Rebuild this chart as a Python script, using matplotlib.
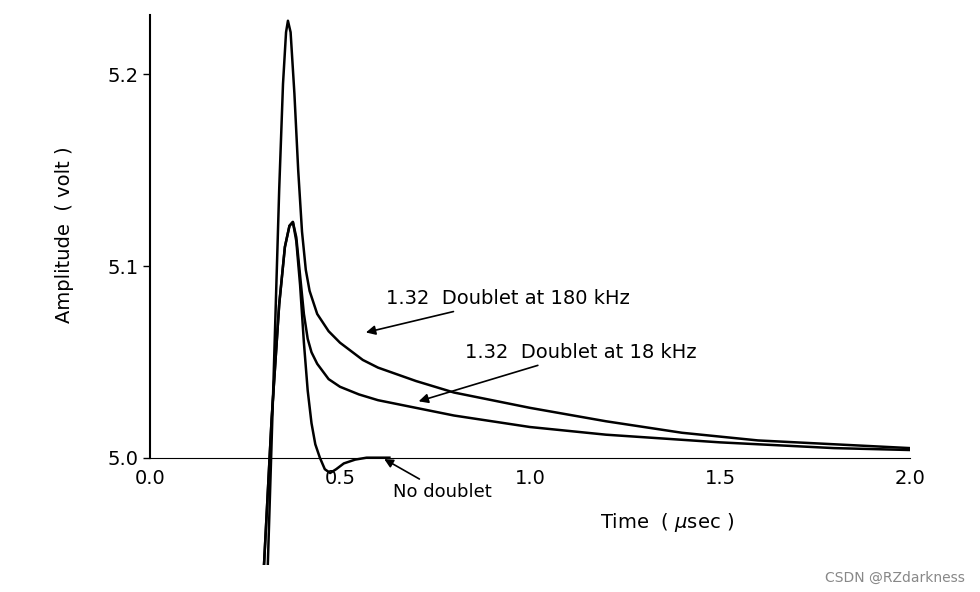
import matplotlib
matplotlib.use("Agg")
import matplotlib.pyplot as plt

t_180 = [0.31, 0.325, 0.34, 0.35, 0.358, 0.363, 0.37, 0.38, 0.39, 0.40, 0.41, 0.42, 0.44, 0.47, 0.5, 0.56, 0.6, 0.7, 0.8, 0.9, 1.0, 1.2, 1.4, 1.6, 1.8, 2.0]
v_180 = [4.944, 5.04, 5.14, 5.195, 5.222, 5.228, 5.222, 5.19, 5.15, 5.118, 5.098, 5.087, 5.075, 5.066, 5.060, 5.051, 5.047, 5.040, 5.034, 5.030, 5.026, 5.019, 5.013, 5.009, 5.007, 5.005]
t_18 = [0.30, 0.32, 0.34, 0.355, 0.367, 0.376, 0.385, 0.395, 0.405, 0.415, 0.425, 0.44, 0.47, 0.5, 0.55, 0.6, 0.7, 0.8, 1.0, 1.2, 1.5, 1.8, 2.0]
v_18 = [4.944, 5.02, 5.08, 5.11, 5.121, 5.123, 5.115, 5.095, 5.075, 5.062, 5.055, 5.049, 5.041, 5.037, 5.033, 5.030, 5.026, 5.022, 5.016, 5.012, 5.008, 5.005, 5.004]
t_no = [0.30, 0.32, 0.34, 0.355, 0.367, 0.376, 0.385, 0.395, 0.405, 0.415, 0.425, 0.435, 0.447, 0.46, 0.474, 0.49, 0.51, 0.54, 0.57, 0.6, 0.63]
v_no = [4.944, 5.02, 5.08, 5.11, 5.121, 5.123, 5.113, 5.09, 5.06, 5.035, 5.018, 5.007, 5.0, 4.994, 4.992, 4.994, 4.997, 4.999, 5.0, 5.0, 5.0]
xticks = [0.0, 0.5, 1.0, 1.5, 2.0]
yticks = [5.0, 5.1, 5.2]

fig = plt.figure(figsize=(9.8, 5.92), dpi=100)
ax = fig.add_axes([150/980, 27/592, 760/980, 550/592])
ax.set_xlim(0, 2.0)
ax.set_ylim(4.944, 5.231)
for t, v in [(t_180, v_180), (t_18, v_18), (t_no, v_no)]:
    ax.plot(t, v, color="black", lw=1.8, solid_joinstyle="round")

for s in ["top", "right"]:
    ax.spines[s].set_visible(False)
ax.spines["bottom"].set_position(("data", 5.0))
ax.spines["bottom"].set_linewidth(0.8)
ax.spines["left"].set_linewidth(1.5)
ax.spines["left"].set_bounds(5.0, 5.231)
ax.set_xticks(xticks)
ax.set_xticklabels([f"{x:.1f}" for x in xticks], fontsize=14)
ax.set_yticks(yticks)
ax.set_yticklabels([f"{y:.1f}" for y in yticks], fontsize=14)
ax.tick_params(axis="x", length=0, pad=8)
ax.tick_params(axis="y", length=5, width=1)
ax.set_ylabel("Amplitude  ( volt )", fontsize=14, labelpad=14)
ax.yaxis.set_label_coords(-0.1, 0.6)
fig.text(600/980, 1 - 523/592, "Time  ( $\\mu$sec )", fontsize=14, va="center", ha="left")

ax.annotate("1.32  Doublet at 180 kHz", xy=(0.561, 5.065), xytext=(0.62, 5.083),
            fontsize=14, va="center",
            arrowprops=dict(arrowstyle="-|>", color="black", lw=1.2))
ax.annotate("1.32  Doublet at 18 kHz", xy=(0.70, 5.029), xytext=(0.83, 5.055),
            fontsize=14, va="center",
            arrowprops=dict(arrowstyle="-|>", color="black", lw=1.2))
ax.annotate("No doublet", xy=(0.61, 5.0), xytext=(0.64, 4.982),
            fontsize=13, va="center",
            arrowprops=dict(arrowstyle="-|>", color="black", lw=1.2))
fig.text(965/980, 1 - 578/592, "CSDN @RZdarkness", fontsize=10, color="#888888", ha="right", va="center")
fig.savefig("out.png", dpi=100)
